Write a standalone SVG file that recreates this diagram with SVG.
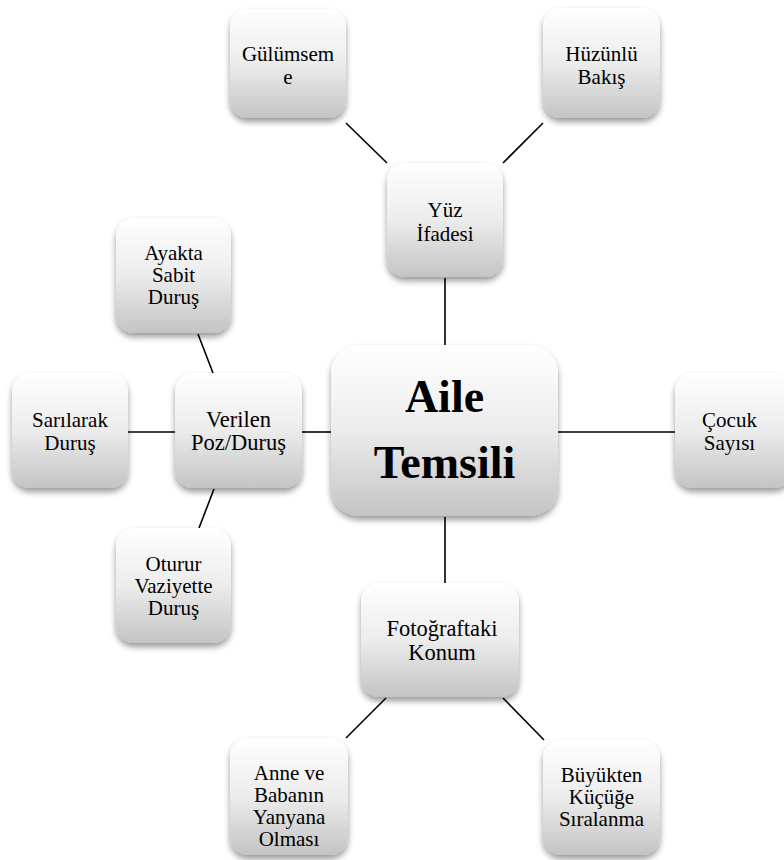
<svg xmlns="http://www.w3.org/2000/svg" width="784" height="860" viewBox="0 0 784 860">
<defs>
<linearGradient id="g" x1="0" y1="0" x2="0" y2="1">
<stop offset="0" stop-color="#ffffff"/>
<stop offset="0.5" stop-color="#ececec"/>
<stop offset="1" stop-color="#c4c4c4"/>
</linearGradient>
<filter id="sh" x="-20%" y="-20%" width="140%" height="150%">
<feGaussianBlur in="SourceAlpha" stdDeviation="3"/>
<feOffset dy="4" result="b"/>
<feComponentTransfer><feFuncA type="linear" slope="0.4"/></feComponentTransfer>
<feMerge><feMergeNode/><feMergeNode in="SourceGraphic"/></feMerge>
</filter>
<style>
.box{fill:url(#g);filter:url(#sh);}
.t{font-family:'Liberation Serif','Times New Roman',serif;font-size:21px;fill:#000;text-anchor:middle;}
.w{font-size:22.5px;}
.big{font-family:'Liberation Serif','Times New Roman',serif;font-size:46px;font-weight:bold;fill:#000;text-anchor:middle;}
.c{stroke:#000;stroke-width:1.6;fill:none;}
</style>
</defs>
<rect width="784" height="860" fill="#ffffff"/>
<g id="connectors">
<line class="c" x1="346" y1="123" x2="387" y2="163"/>
<line class="c" x1="543" y1="123" x2="503" y2="163"/>
<line class="c" x1="445" y1="278" x2="445" y2="345"/>
<line class="c" x1="558" y1="432" x2="675" y2="432"/>
<line class="c" x1="302" y1="432" x2="331" y2="432"/>
<line class="c" x1="128" y1="432" x2="175" y2="432"/>
<line class="c" x1="198" y1="334" x2="213" y2="373"/>
<line class="c" x1="214" y1="489" x2="199" y2="528"/>
<line class="c" x1="445" y1="517" x2="445" y2="583"/>
<line class="c" x1="386" y1="698" x2="346" y2="738"/>
<line class="c" x1="503" y1="698" x2="544" y2="740"/>
</g>
<g id="center">
<rect class="box" x="331" y="345" width="227" height="171" rx="28"/>
<text class="big" x="444.5" y="412">Aile</text>
<text class="big" x="444.5" y="478">Temsili</text>
</g>
<g id="gulumseme">
<rect class="box" x="230" y="9" width="116" height="109" rx="18"/>
<text class="t" x="288" y="61">Gülümsem</text>
<text class="t" x="288" y="84">e</text>
</g>
<g id="huzunlu">
<rect class="box" x="543" y="8" width="117" height="110" rx="18"/>
<text class="t" x="601.5" y="61">Hüzünlü</text>
<text class="t" x="601.5" y="84">Bakış</text>
</g>
<g id="yuz">
<rect class="box" x="387" y="163" width="116" height="114" rx="18"/>
<text class="t" x="445" y="217">Yüz</text>
<text class="t" x="445" y="241">İfadesi</text>
</g>
<g id="verilen">
<rect class="box" x="175" y="373" width="127" height="115" rx="18"/>
<text class="t w" x="238.5" y="427">Verilen</text>
<text class="t w" x="238.5" y="450">Poz/Duruş</text>
</g>
<g id="sarilarak">
<rect class="box" x="12" y="373" width="116" height="115" rx="18"/>
<text class="t" x="70" y="427">Sarılarak</text>
<text class="t" x="70" y="450">Duruş</text>
</g>
<g id="ayakta">
<rect class="box" x="116" y="218" width="115" height="115" rx="18"/>
<text class="t" x="173.5" y="260">Ayakta</text>
<text class="t" x="173.5" y="282">Sabit</text>
<text class="t" x="173.5" y="304">Duruş</text>
</g>
<g id="oturur">
<rect class="box" x="116" y="528" width="115" height="115" rx="18"/>
<text class="t" x="173.5" y="571">Oturur</text>
<text class="t" x="173.5" y="593">Vaziyette</text>
<text class="t" x="173.5" y="615">Duruş</text>
</g>
<g id="cocuk">
<rect class="box" x="675" y="373" width="117" height="115" rx="18"/>
<text class="t" x="729.5" y="427">Çocuk</text>
<text class="t" x="729.5" y="450">Sayısı</text>
</g>
<g id="fotograf">
<rect class="box" x="361" y="583" width="158" height="114" rx="18"/>
<text class="t w" x="442" y="636">Fotoğraftaki</text>
<text class="t w" x="442" y="660">Konum</text>
</g>
<g id="anne">
<rect class="box" x="230" y="738" width="118" height="117" rx="18"/>
<text class="t" x="289" y="780">Anne  ve</text>
<text class="t" x="289" y="802">Babanın</text>
<text class="t" x="289" y="824">Yanyana</text>
<text class="t" x="289" y="846">Olması</text>
</g>
<g id="buyukten">
<rect class="box" x="543" y="740" width="117" height="115" rx="18"/>
<text class="t" x="601.5" y="782">Büyükten</text>
<text class="t" x="601.5" y="804">Küçüğe</text>
<text class="t" x="601.5" y="826">Sıralanma</text>
</g>
</svg>
